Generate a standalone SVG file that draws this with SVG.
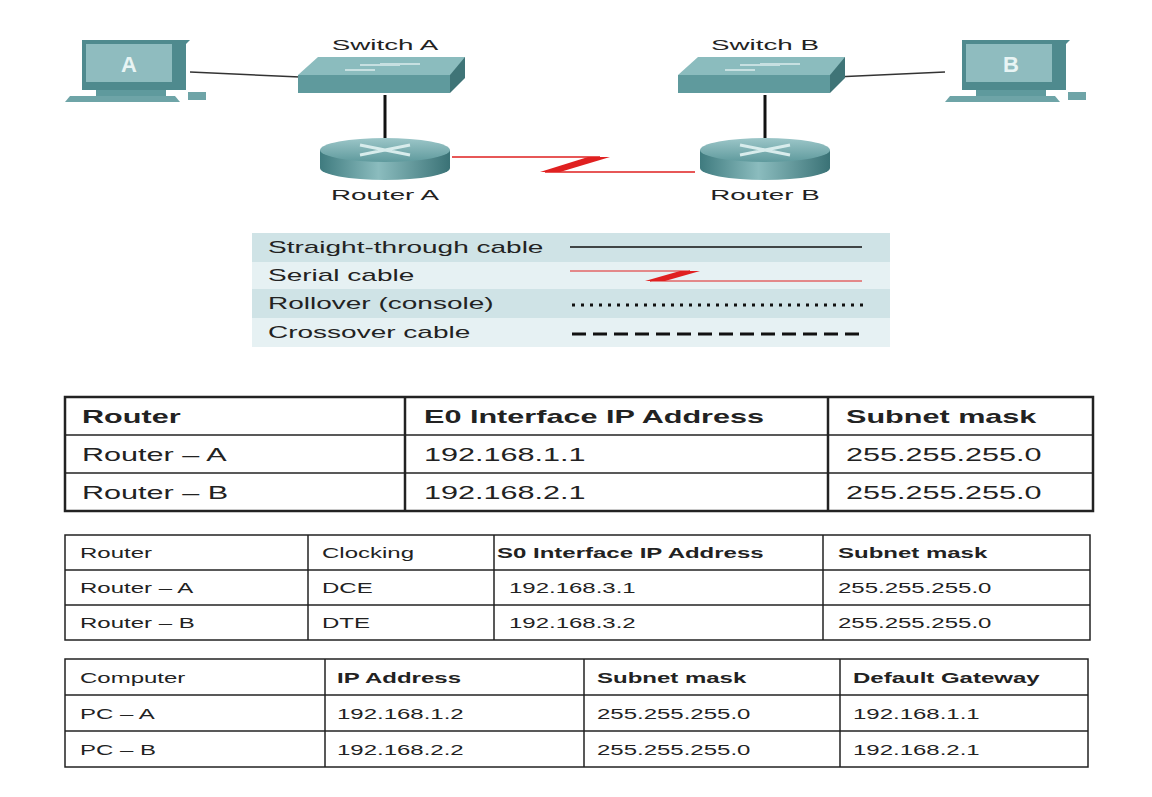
<svg xmlns="http://www.w3.org/2000/svg" width="1152" height="797" viewBox="0 0 1152 797">
<defs>
<linearGradient id="rg" x1="0" x2="1" y1="0" y2="0"><stop offset="0" stop-color="#3f7b7f"/><stop offset="0.45" stop-color="#8bbcbe"/><stop offset="1" stop-color="#3a7276"/></linearGradient>
<linearGradient id="rt" x1="0" x2="0" y1="0" y2="1"><stop offset="0" stop-color="#9cc6c8"/><stop offset="1" stop-color="#5f9a9d"/></linearGradient>
</defs>
<style>
text{font-family:"Liberation Sans",Arial,sans-serif;fill:#222}
.lbl{font-size:15px;text-anchor:middle}
.t1{font-size:18px}
.t2{font-size:15px}
.lg{font-size:16px}
.b{font-weight:bold}
.tb{fill:none;stroke:#222;stroke-width:1.5}
.tl{stroke:#222;stroke-width:1.5}
</style>
<rect width="1152" height="797" fill="#fff"/>
<g id="connectors">
<line x1="190" y1="72" x2="300" y2="77" stroke="#333" stroke-width="1.5"/>
<line x1="835" y1="77" x2="945" y2="72" stroke="#333" stroke-width="1.5"/>
<line x1="385" y1="95" x2="385" y2="140" stroke="#111" stroke-width="3"/>
<line x1="765" y1="95" x2="765" y2="140" stroke="#111" stroke-width="3"/>
<polyline points="452,157 600,157 545,172 695,172" fill="none" stroke="#e02020" stroke-width="1.5"/>
<polygon points="588,157 610,157 560,172 540,172" fill="#e02020"/>
</g>
<g id="pcA">
<path d="M82,40 L190,40 L186,44 L186,90 L82,90 Z" fill="#4f8a8e"/>
<rect x="86" y="44" width="86" height="38" fill="#8fbcbf"/>
<text x="129" y="72" style="font-size:22px;font-weight:bold;fill:#e8f4f4;text-anchor:middle">A</text>
<rect x="96" y="90" width="70" height="6" fill="#5f9a9d"/>
<path d="M70,96 L175,96 L180,102 L65,102 Z" fill="#6ea4a7"/>
<rect x="188" y="92" width="18" height="8" fill="#6ea4a7"/>
</g>
<g id="switchA">
<text transform="translate(385,50) scale(1.85,1)" class="lbl">Switch A</text>
<path d="M298,75 L318,57 L465,57 L465,75 Z" fill="#8bbcbe"/>
<path d="M298,75 L450,75 L450,93 L298,93 Z" fill="#5f9a9d"/>
<path d="M450,75 L465,57 L465,78 L450,93 Z" fill="#3f7477"/>
<path d="M345,70 L375,70 M380,64 L420,64 M360,65 L400,65" stroke="#c7e0e1" stroke-width="2"/>
</g>
<g id="routerA">
<path d="M320,150 L320,168 A65,12 0 0 0 450,168 L450,150 Z" fill="url(#rg)"/>
<ellipse cx="385" cy="150" rx="65" ry="12" fill="url(#rt)"/>
<path d="M360,145 L410,155 M360,155 L410,145" stroke="#d8ecec" stroke-width="3"/>
<text transform="translate(385,200) scale(1.85,1)" class="lbl">Router A</text>
</g>
<g id="switchB">
<text transform="translate(765,50) scale(1.85,1)" class="lbl">Switch B</text>
<path d="M678,75 L698,57 L845,57 L845,75 Z" fill="#8bbcbe"/>
<path d="M678,75 L830,75 L830,93 L678,93 Z" fill="#5f9a9d"/>
<path d="M830,75 L845,57 L845,78 L830,93 Z" fill="#3f7477"/>
<path d="M725,70 L755,70 M760,64 L800,64 M740,65 L780,65" stroke="#c7e0e1" stroke-width="2"/>
</g>
<g id="routerB">
<path d="M700,150 L700,168 A65,12 0 0 0 830,168 L830,150 Z" fill="url(#rg)"/>
<ellipse cx="765" cy="150" rx="65" ry="12" fill="url(#rt)"/>
<path d="M740,145 L790,155 M740,155 L790,145" stroke="#d8ecec" stroke-width="3"/>
<text transform="translate(765,200) scale(1.85,1)" class="lbl">Router B</text>
</g>
<g id="pcB">
<path d="M962,40 L1070,40 L1066,44 L1066,90 L962,90 Z" fill="#4f8a8e"/>
<rect x="966" y="44" width="86" height="38" fill="#8fbcbf"/>
<text x="1011" y="72" style="font-size:22px;font-weight:bold;fill:#e8f4f4;text-anchor:middle">B</text>
<rect x="976" y="90" width="70" height="6" fill="#5f9a9d"/>
<path d="M950,96 L1055,96 L1060,102 L945,102 Z" fill="#6ea4a7"/>
<rect x="1068" y="92" width="18" height="8" fill="#6ea4a7"/>
</g>
<g id="legend">
<rect x="252" y="233" width="638" height="29" fill="#cfe3e6"/>
<rect x="252" y="262" width="638" height="27" fill="#e6f1f3"/>
<rect x="252" y="289" width="638" height="29" fill="#cfe3e6"/>
<rect x="252" y="318" width="638" height="29" fill="#e6f1f3"/>
<text transform="translate(268,253) scale(1.75,1)" class="lg">Straight-through cable</text>
<text transform="translate(268,281) scale(1.75,1)" class="lg">Serial cable</text>
<text transform="translate(268,309) scale(1.75,1)" class="lg">Rollover (console)</text>
<text transform="translate(268,338) scale(1.75,1)" class="lg">Crossover cable</text>
<line x1="570" y1="247" x2="862" y2="247" stroke="#111" stroke-width="1.5"/>
<polyline points="570,271 690,271 650,281 862,281" fill="none" stroke="#e02020" stroke-width="1"/>
<polygon points="680,271 700,271 665,281 645,281" fill="#e02020"/>
<line x1="572" y1="305" x2="865" y2="305" stroke="#111" stroke-width="3" stroke-dasharray="3,6"/>
<line x1="572" y1="334" x2="865" y2="334" stroke="#111" stroke-width="3" stroke-dasharray="14,7"/>
</g>
<g id="table1">
<rect x="65" y="397" width="1028" height="114" class="tb" style="stroke-width:2.5"/>
<line x1="65" y1="435" x2="1093" y2="435" class="tl"/>
<line x1="65" y1="473" x2="1093" y2="473" class="tl"/>
<line x1="405" y1="397" x2="405" y2="511" class="tl" style="stroke-width:2.5"/>
<line x1="828" y1="397" x2="828" y2="511" class="tl" style="stroke-width:2.5"/>
<text transform="translate(82,423) scale(1.7,1)" class="t1 b">Router</text>
<text transform="translate(424,423) scale(1.7,1)" class="t1 b">E0 Interface IP Address</text>
<text transform="translate(846,423) scale(1.7,1)" class="t1 b">Subnet mask</text>
<text transform="translate(82,461) scale(1.7,1)" class="t1">Router  – A</text>
<text transform="translate(424,461) scale(1.7,1)" class="t1">192.168.1.1</text>
<text transform="translate(846,461) scale(1.7,1)" class="t1">255.255.255.0</text>
<text transform="translate(82,499) scale(1.7,1)" class="t1">Router  – B</text>
<text transform="translate(424,499) scale(1.7,1)" class="t1">192.168.2.1</text>
<text transform="translate(846,499) scale(1.7,1)" class="t1">255.255.255.0</text>
</g>
<g id="table2">
<rect x="65" y="535" width="1025" height="105" class="tb"/>
<line x1="65" y1="570" x2="1090" y2="570" class="tl"/>
<line x1="65" y1="605" x2="1090" y2="605" class="tl"/>
<line x1="308" y1="535" x2="308" y2="640" class="tl"/>
<line x1="494" y1="535" x2="494" y2="640" class="tl"/>
<line x1="823" y1="535" x2="823" y2="640" class="tl"/>
<text transform="translate(80,558) scale(1.6,1)" class="t2">Router</text>
<text transform="translate(322,558) scale(1.6,1)" class="t2">Clocking</text>
<text transform="translate(497,558) scale(1.6,1)" class="t2 b">S0 Interface IP Address</text>
<text transform="translate(838,558) scale(1.6,1)" class="t2 b">Subnet mask</text>
<text transform="translate(80,593) scale(1.6,1)" class="t2">Router  – A</text>
<text transform="translate(322,593) scale(1.6,1)" class="t2">DCE</text>
<text transform="translate(509,593) scale(1.6,1)" class="t2">192.168.3.1</text>
<text transform="translate(838,593) scale(1.6,1)" class="t2">255.255.255.0</text>
<text transform="translate(80,628) scale(1.6,1)" class="t2">Router  – B</text>
<text transform="translate(322,628) scale(1.6,1)" class="t2">DTE</text>
<text transform="translate(509,628) scale(1.6,1)" class="t2">192.168.3.2</text>
<text transform="translate(838,628) scale(1.6,1)" class="t2">255.255.255.0</text>
</g>
<g id="table3">
<rect x="65" y="659" width="1023" height="108" class="tb"/>
<line x1="65" y1="695" x2="1088" y2="695" class="tl"/>
<line x1="65" y1="731" x2="1088" y2="731" class="tl"/>
<line x1="325" y1="659" x2="325" y2="767" class="tl"/>
<line x1="584" y1="659" x2="584" y2="767" class="tl"/>
<line x1="840" y1="659" x2="840" y2="767" class="tl"/>
<text transform="translate(80,683) scale(1.6,1)" class="t2">Computer</text>
<text transform="translate(337,683) scale(1.6,1)" class="t2 b">IP Address</text>
<text transform="translate(597,683) scale(1.6,1)" class="t2 b">Subnet mask</text>
<text transform="translate(853,683) scale(1.6,1)" class="t2 b">Default Gateway</text>
<text transform="translate(80,719) scale(1.6,1)" class="t2">PC – A</text>
<text transform="translate(337,719) scale(1.6,1)" class="t2">192.168.1.2</text>
<text transform="translate(597,719) scale(1.6,1)" class="t2">255.255.255.0</text>
<text transform="translate(853,719) scale(1.6,1)" class="t2">192.168.1.1</text>
<text transform="translate(80,755) scale(1.6,1)" class="t2">PC – B</text>
<text transform="translate(337,755) scale(1.6,1)" class="t2">192.168.2.2</text>
<text transform="translate(597,755) scale(1.6,1)" class="t2">255.255.255.0</text>
<text transform="translate(853,755) scale(1.6,1)" class="t2">192.168.2.1</text>
</g>
</svg>
